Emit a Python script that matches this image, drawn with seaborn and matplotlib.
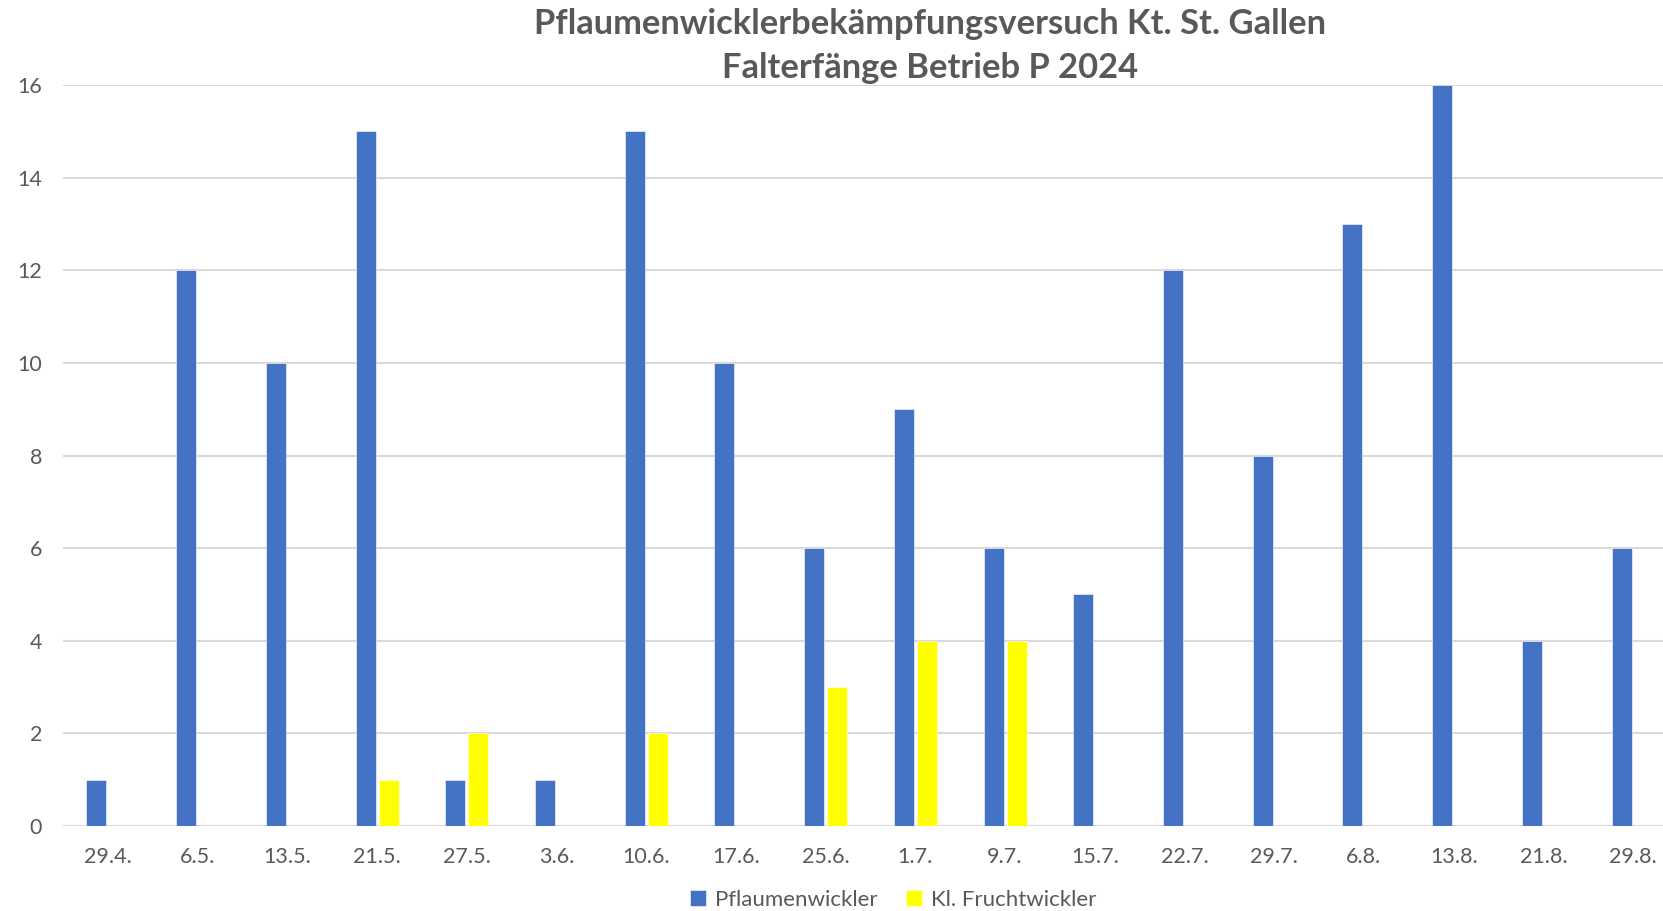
import pandas as pd
import numpy as np
import matplotlib.pyplot as plt
import seaborn as sns

# Daten aus dem Diagramm
datum = ['29.4.', '6.5.', '13.5.', '21.5.', '27.5.', '3.6.', '10.6.', '17.6.', '25.6.',
         '1.7.', '9.7.', '15.7.', '22.7.', '29.7.', '6.8.', '13.8.', '21.8.', '29.8.']
pflaumenwickler = [1, 12, 10, 15, 1, 1, 15, 10, 6, 9, 6, 5, 12, 8, 13, 16, 4, 6]
fruchtwickler = [0, 0, 0, 1, 2, 0, 2, 0, 3, 4, 4, 0, 0, 0, 0, 0, 0, 0]

serien = ['Pflaumenwickler', 'Kl. Fruchtwickler']
farben = {'Pflaumenwickler': '#4472C4', 'Kl. Fruchtwickler': '#FFFF00'}

df = pd.DataFrame({
    'Datum': datum * 2,
    'Anzahl': pflaumenwickler + fruchtwickler,
    'Art': [serien[0]] * len(datum) + [serien[1]] * len(datum),
})

sns.set_style('white')
plt.rcParams['font.family'] = ['Lato', 'DejaVu Sans']
grau = '#595959'

fig = plt.figure(figsize=(16.63, 9.11), dpi=100)
# Achsen ragen rechts ueber den Bildrand hinaus (wie im Original abgeschnitten)
ax = fig.add_axes([63 / 1663, 1 - 826 / 911, 1615 / 1663, 741 / 911])

sns.barplot(data=df, x='Datum', y='Anzahl', hue='Art', hue_order=serien,
            palette=farben, saturation=1, width=0.513, gap=0.13, ax=ax,
            edgecolor='white', linewidth=0.4)

ax.set_xlim(-0.5, len(datum) - 0.5)
ax.set_ylim(0, 16)
ax.set_yticks(np.arange(0, 17, 2))
ax.yaxis.grid(True, color='#d9d9d9', linewidth=1.5)
ax.set_axisbelow(True)
for s in ax.spines.values():
    s.set_visible(False)
ax.axhline(0, color='#d9d9d9', linewidth=1.5, zorder=0)

ax.set_xlabel('')
ax.set_ylabel('')
ax.tick_params(axis='both', length=0, labelsize=15.5, labelcolor=grau)
ax.tick_params(axis='y', pad=15)
ax.tick_params(axis='x', pad=15)

# Legende unten mittig
handles, labels = ax.get_legend_handles_labels()
ax.get_legend().remove()
fig.legend(handles, labels, loc='center', bbox_to_anchor=(893 / 1663, 1 - 900 / 911),
           ncol=2, frameon=False, fontsize=16, labelcolor=grau,
           handlelength=0.7, handleheight=0.7, handletextpad=0.4, columnspacing=1.3)

fig.text(930 / 1663, 1 - 24 / 911, 'Pflaumenwicklerbekämpfungsversuch Kt. St. Gallen',
         ha='center', va='center', fontsize=24.8, fontweight='bold', color=grau)
fig.text(930 / 1663, 1 - 68 / 911, 'Falterfänge Betrieb P 2024',
         ha='center', va='center', fontsize=24.8, fontweight='bold', color=grau)

fig.savefig('out.png', dpi=100)
